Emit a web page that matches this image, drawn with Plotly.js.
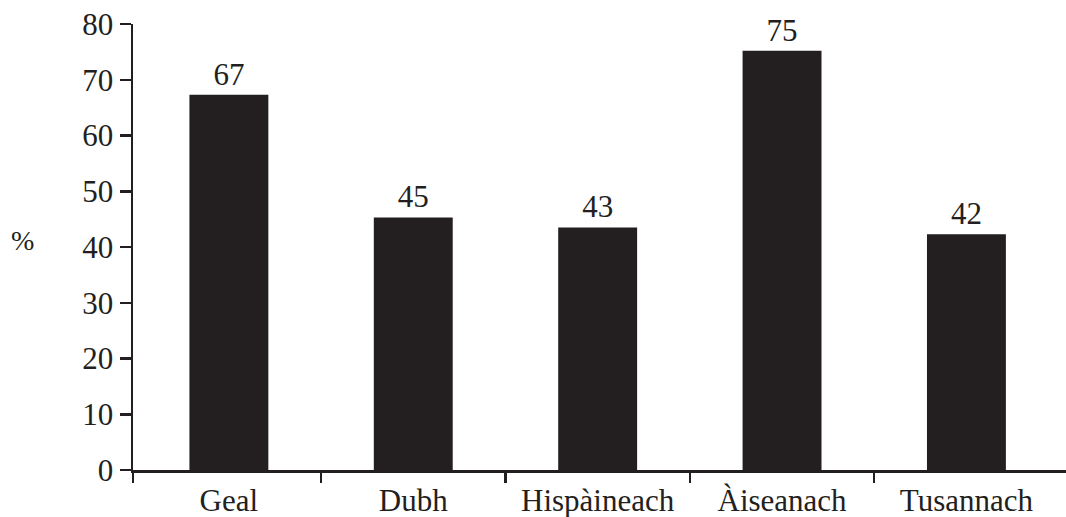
<!DOCTYPE html>
<html>
<head>
<meta charset="utf-8">
<script src="https://cdn.plot.ly/plotly-3.0.1.min.js"></script>
<style>html,body{margin:0;padding:0;background:#fff;}#chart{width:1066px;height:517px;}</style>
</head>
<body>
<div id="chart"></div>
<script>
const categories = ["Geal", "Dubh", "Hispàineach", "Àiseanach", "Tusannach"];
const values = [67.3, 45.3, 43.5, 75.2, 42.3];
const valueLabels = ["67", "45", "43", "75", "42"];
const yTicks = [0, 10, 20, 30, 40, 50, 60, 70, 80];
const boundaryTicks = [-0.52, 0.5, 1.5, 2.5, 3.5];

const ink = "#231f20";
const fontFam = "'Liberation Serif', 'Times New Roman', serif";
const xRange = [-0.52, 4.54];

const bars = {
  type: "bar",
  x: categories,
  y: values,
  text: valueLabels,
  textposition: "outside",
  texttemplate: "%{text}",
  cliponaxis: false,
  textfont: {family: fontFam, size: 31, color: ink},
  marker: {color: ink, line: {width: 0}},
  width: 0.428,
  hoverinfo: "skip"
};

// carrier for the category-boundary tick axis (draws nothing)
const boundaryCarrier = {
  type: "scatter",
  mode: "none",
  xaxis: "x2",
  yaxis: "y",
  x: boundaryTicks,
  y: boundaryTicks.map(() => null),
  hoverinfo: "skip",
  showlegend: false
};

const layout = {
  width: 1066, height: 517,
  margin: {l: 133, r: 0, t: 24, b: 47, pad: 0},
  paper_bgcolor: "#fff", plot_bgcolor: "#fff",
  showlegend: false,
  font: {family: fontFam, color: ink, size: 31},
  xaxis: {
    type: "category",
    range: xRange,
    showgrid: false, zeroline: false,
    showline: true, linecolor: ink, linewidth: 2.5,
    ticks: "",
    ticklabelstandoff: 1,
    tickfont: {family: fontFam, size: 31, color: ink},
    fixedrange: true
  },
  xaxis2: {
    type: "linear",
    overlaying: "x",
    anchor: "y",
    side: "bottom",
    range: xRange,
    tickmode: "array",
    tickvals: boundaryTicks,
    ticktext: boundaryTicks.map(() => ""),
    ticks: "outside", ticklen: 12, tickwidth: 2.5, tickcolor: ink,
    showgrid: false, zeroline: false, showline: false,
    fixedrange: true
  },
  yaxis: {
    range: [0, 80],
    tickmode: "array",
    tickvals: yTicks,
    ticks: "outside", ticklen: 11, tickwidth: 2.5, tickcolor: ink,
    showline: true, linecolor: ink, linewidth: 2.5,
    showgrid: false, zeroline: false,
    tickfont: {family: fontFam, size: 31, color: ink},
    fixedrange: true
  },
  annotations: [{
    text: "%",
    xref: "paper", yref: "paper",
    x: -0.118, y: 0.515,
    xanchor: "center", yanchor: "middle",
    showarrow: false,
    font: {family: fontFam, size: 28, color: ink}
  }]
};

Plotly.newPlot("chart", [bars, boundaryCarrier], layout, {staticPlot: true, displayModeBar: false});
</script>
</body>
</html>
